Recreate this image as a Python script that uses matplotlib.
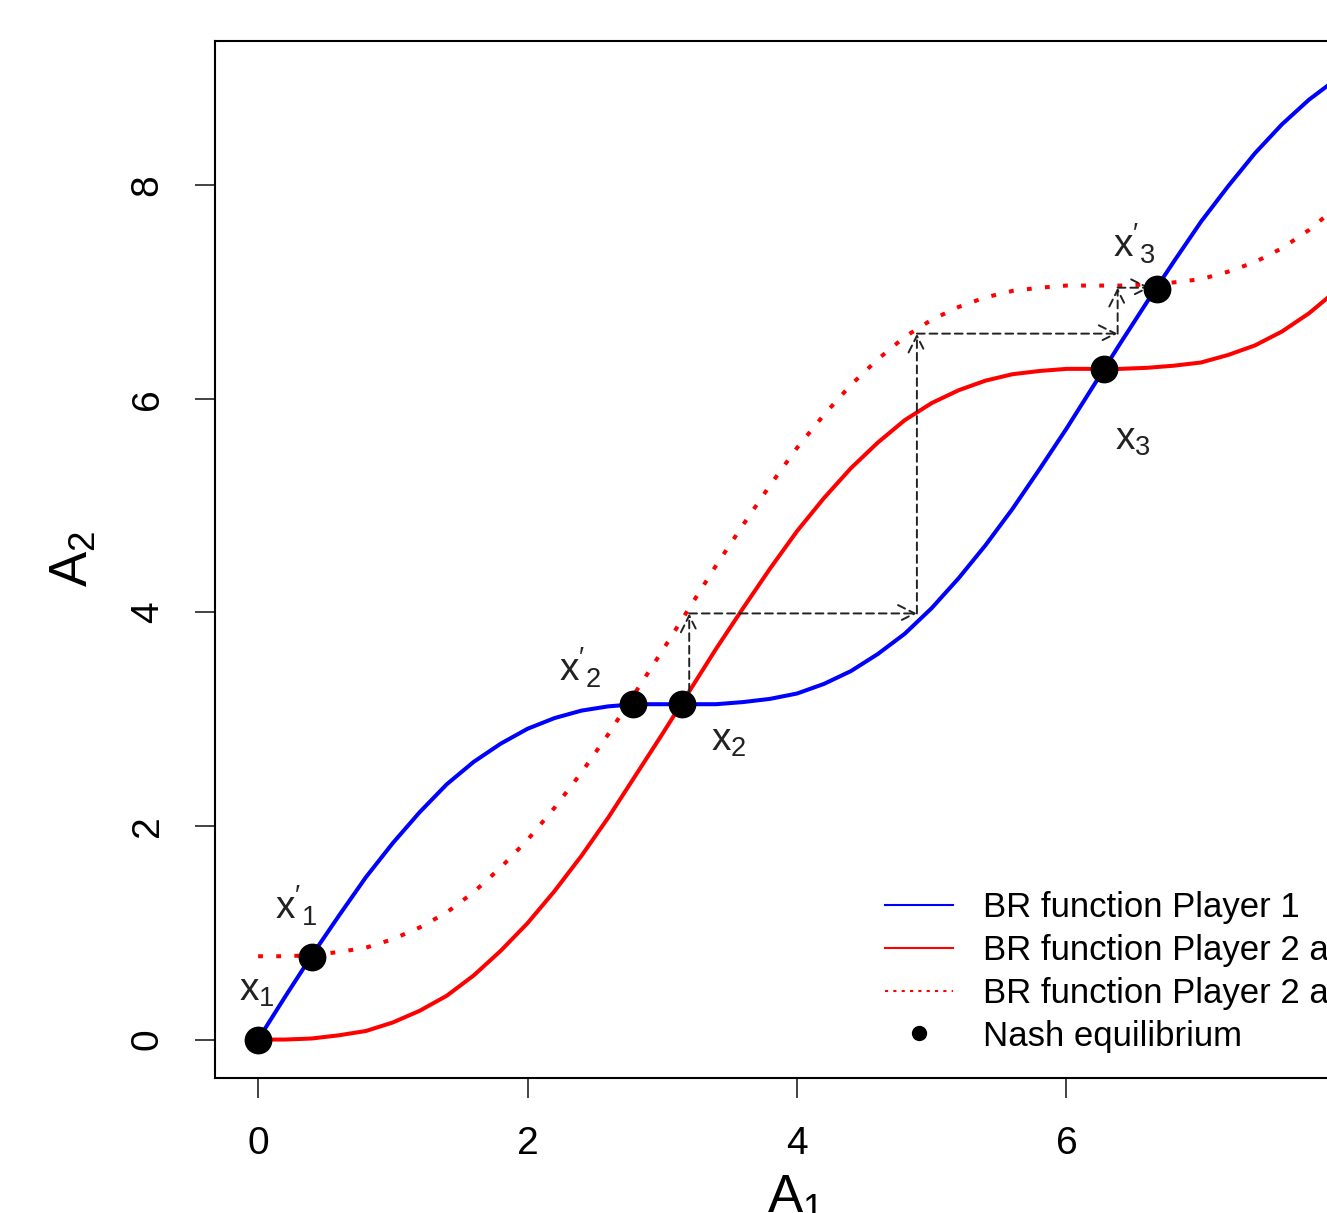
import matplotlib.pyplot as plt
from matplotlib.lines import Line2D

plt.rcParams['font.family'] = ['Liberation Sans', 'DejaVu Sans']
plt.rcParams['mathtext.fontset'] = 'custom'
plt.rcParams['mathtext.rm'] = 'Liberation Sans'
plt.rcParams['mathtext.it'] = 'Liberation Sans:italic'

# values
a1 = [0.0, 0.2, 0.4, 0.6, 0.8, 1.0, 1.2, 1.4, 1.6, 1.8, 2.0, 2.2, 2.4, 2.6,
      2.8, 3.0, 3.2, 3.4, 3.6, 3.8, 4.0, 4.2, 4.4, 4.6, 4.8, 5.0, 5.2, 5.4,
      5.6, 5.8, 6.0, 6.2, 6.4, 6.6, 6.8, 7.0, 7.2, 7.4, 7.6, 7.8, 8.0]
br1 = [0.00, 0.40, 0.79, 1.16, 1.52, 1.84, 2.13, 2.39, 2.60, 2.77, 2.91,
       3.01, 3.08, 3.12, 3.14, 3.14, 3.14, 3.14, 3.16, 3.19, 3.24, 3.33,
       3.45, 3.61, 3.80, 4.04, 4.32, 4.63, 4.97, 5.34, 5.72, 6.12, 6.52,
       6.91, 7.29, 7.66, 7.99, 8.30, 8.57, 8.80, 8.99]
br2 = [0.00, 0.00, 0.01, 0.04, 0.08, 0.16, 0.27, 0.41, 0.60, 0.83, 1.09,
       1.39, 1.72, 2.08, 2.47, 2.86, 3.26, 3.66, 4.04, 4.41, 4.76, 5.07,
       5.35, 5.59, 5.80, 5.96, 6.08, 6.17, 6.23, 6.26, 6.28, 6.28, 6.28,
       6.29, 6.31, 6.34, 6.41, 6.50, 6.63, 6.80, 7.01]
br2_new = [0.78, 0.78, 0.79, 0.82, 0.86, 0.94, 1.05, 1.19, 1.38, 1.61, 1.87,
           2.17, 2.50, 2.86, 3.25, 3.64, 4.04, 4.44, 4.82, 5.19, 5.54, 5.85,
           6.13, 6.37, 6.58, 6.74, 6.86, 6.95, 7.01, 7.04, 7.06, 7.06, 7.06,
           7.07, 7.09, 7.12, 7.19, 7.28, 7.41, 7.58, 7.79]

nash_x = [0.00, 0.40, 2.78, 3.15, 6.28, 6.67]
nash_y = [0.00, 0.77, 3.14, 3.14, 6.28, 7.03]

# adjustment path (dashed arrows)
web_x0 = [3.20, 3.20, 4.89, 4.89, 6.38, 6.38]
web_y0 = [3.14, 3.99, 3.99, 6.61, 6.61, 7.04]
web_x1 = [3.20, 4.89, 4.89, 6.38, 6.38, 6.62]
web_y1 = [3.99, 3.99, 6.61, 6.61, 7.04, 7.04]

lab_text = [r"$\mathrm{x}_1$", r"$\mathrm{x'}_1$", r"$\mathrm{x'}_2$",
            r"$\mathrm{x}_2$", r"$\mathrm{x'}_3$", r"$\mathrm{x}_3$"]
lab_x = [-0.01, 0.28, 2.39, 3.49, 6.50, 6.49]
lab_y = [0.45, 1.25, 3.48, 2.80, 7.45, 5.61]

legend_labels = ["BR function Player 1", "BR function Player 2 at t = 0",
                 "BR function Player 2 at t = 1", "Nash equilibrium"]

W, H = 1327, 1213
fig = plt.figure(figsize=(W / 100, H / 100), dpi=100)
ax = fig.add_axes([215 / W, 1 - 1078 / H, (1379 - 215) / W, (1078 - 41) / H])

dotted = (0, (1.2, 3.3))
ax.plot(a1, br1, color='#0000FF', lw=2.9)
ax.plot(a1, br2, color='#FF0000', lw=2.9)
ax.plot(a1, br2_new, color='#FF0000', lw=2.9, linestyle=dotted)

for x0, y0, x1, y1 in zip(web_x0, web_y0, web_x1, web_y1):
    ax.annotate('', xy=(x1, y1), xytext=(x0, y0),
                arrowprops=dict(arrowstyle='->,head_length=0.6,head_width=0.3',
                                linestyle=(0, (4, 2.5)), lw=1.4, color='#222222',
                                shrinkA=0, shrinkB=0, mutation_scale=20))

ax.plot(nash_x, nash_y, 'o', color='black', ms=19, zorder=5)

for t, x, y in zip(lab_text, lab_x, lab_y):
    ax.text(x, y, t, fontsize=28, ha='center', va='center', color='#222222')

ax.set_xlim(-0.32, 8.32)
ax.set_ylim(-0.36, 9.35)
ax.set_xticks([0, 2, 4, 6, 8])
ax.set_yticks([0, 2, 4, 6, 8])
ax.tick_params(length=14.5, width=1.2, labelsize=28, color='#222222')
ax.tick_params(axis='x', pad=20)
ax.tick_params(axis='y', pad=21, labelrotation=90)
for lbl in ax.get_yticklabels():
    lbl.set_va('center')
for s in ax.spines.values():
    s.set_linewidth(1.5)

fig.text(795 / W, 0.0, r"$\mathrm{A}_1$", fontsize=38, ha='center',
         va='baseline', rotation_mode='anchor')
fig.text(88 / W, 1 - 559 / H, r"$\mathrm{A}_2$", fontsize=38, ha='center',
         va='baseline', rotation=90, rotation_mode='anchor')

handles = [Line2D([], [], color='#0000FF', lw=1.5),
           Line2D([], [], color='#FF0000', lw=1.5),
           Line2D([], [], color='#FF0000', lw=1.5, linestyle=(0, (1.5, 2.5))),
           Line2D([], [], color='black', marker='o', ms=10, linestyle='none')]
ax.legend(handles, legend_labels, loc='upper left',
          bbox_to_anchor=(0.576, 0.180), frameon=False, fontsize=25,
          handlelength=1.95, handletextpad=0.85, labelspacing=0.28,
          borderpad=0, borderaxespad=0)

fig.savefig('out.png', dpi=100)
